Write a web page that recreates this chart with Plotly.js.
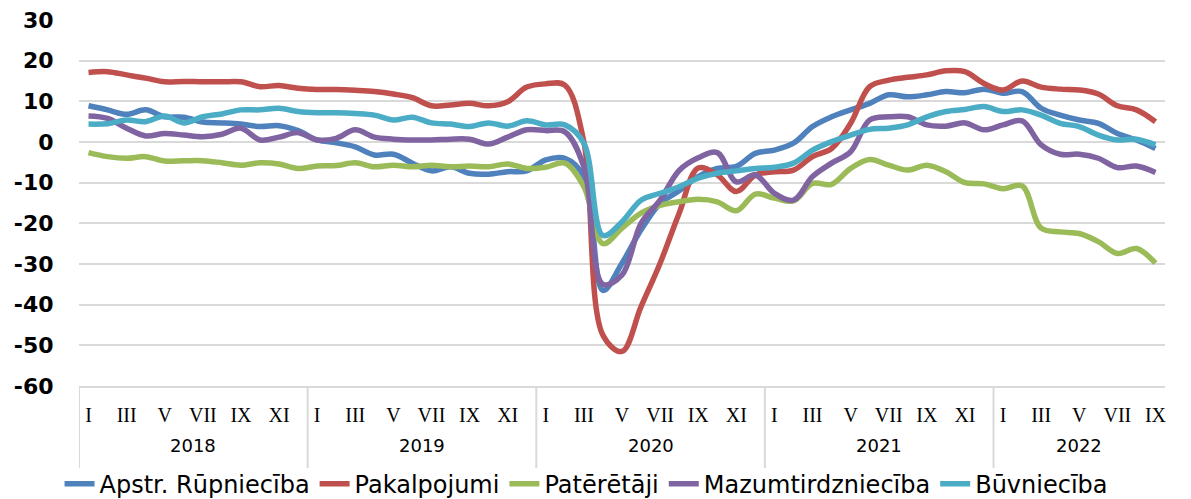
<!DOCTYPE html>
<html>
<head>
<meta charset="utf-8">
<script src="https://cdn.plot.ly/plotly-3.0.1.min.js"></script>
<style>html,body{margin:0;padding:0;background:#fff;}#chart{width:1191px;height:499px;}</style>
</head>
<body>
<div id="chart"></div>
<script>
const years = ["2018","2019","2020","2021","2022"];
const monthsPerYear = [12,12,12,12,9];
const monthNames = ["I","II","III","IV","V","VI","VII","VIII","IX","X","XI","XII"];
const yTickValues = [30, 20, 10, 0, -10, -20, -30, -40, -50, -60];
const yTickLabels = ["30","20","10","0","-10","-20","-30","-40","-50","-60"];

const seriesNames = ["Apstr. Rūpniecība","Pakalpojumi","Patērētāji","Mazumtirdzniecība","Būvniecība"];
const seriesColors = ["#4F81BD","#C0504D","#9BBB59","#8064A2","#4BACC6"];

const apstrRupnieciba = [
  8.9, 7.9, 6.8, 7.9, 6.2, 6.1, 4.9, 4.7, 4.4, 3.8, 4.0, 2.8,
  0.5, -0.2, -1.2, -3.2, -3.0, -5.2, -7.1, -6.1, -7.7, -7.9, -7.3, -7.1,
  -4.4, -4.0, -8.5, -36.5, -29.8, -21.6, -15.1, -12.0, -8.5, -6.5, -6.0, -2.8,
  -2.0, -0.3, 3.8, 6.2, 7.9, 9.5, 11.6, 11.1, 11.6, 12.4, 12.1, 13.0,
  12.0, 12.4, 8.3, 6.6, 5.4, 4.6, 2.1, 0.5, -1.6
];
const pakalpojumi = [
  17.1, 17.3, 16.5, 15.7, 14.8, 14.9, 14.8, 14.8, 14.8, 13.6, 13.9, 13.2,
  12.9, 12.9, 12.7, 12.4, 11.8, 10.9, 8.9, 9.1, 9.5, 8.9, 9.9, 13.5,
  14.3, 14.0, 0.0, -47.5, -51.5, -40.5, -29.8, -17.5, -6.4, -8.1, -12.2, -8.1,
  -7.3, -6.9, -3.6, -1.6, 4.6, 13.6, 15.2, 15.9, 16.5, 17.5, 17.3, 14.4,
  12.8, 15.0, 13.5, 13.0, 12.8, 11.8, 8.9, 7.9, 5.0
];
const pateretaji = [
  -2.6, -3.6, -4.0, -3.6, -4.7, -4.6, -4.6, -5.1, -5.7, -5.1, -5.4, -6.5,
  -5.9, -5.8, -5.1, -6.1, -5.7, -6.1, -5.7, -6.1, -5.9, -6.1, -5.4, -6.5,
  -6.2, -5.2, -11.0, -25.0, -21.2, -17.5, -15.6, -14.7, -14.1, -14.7, -16.9, -12.8,
  -13.8, -14.5, -10.2, -10.4, -6.5, -4.3, -5.7, -6.9, -5.7, -7.3, -10.0, -10.3,
  -11.5, -10.8, -21.2, -22.1, -22.5, -24.5, -27.4, -26.2, -29.8
];
const mazumtirdznieciba = [
  6.4, 5.8, 3.4, 1.5, 2.1, 1.7, 1.3, 1.9, 3.4, 0.5, 1.2, 2.3,
  0.5, 0.9, 3.0, 1.2, 0.7, 0.5, 0.5, 0.7, 0.7, -0.5, 1.2, 3.0,
  2.8, 2.5, -6.1, -35.0, -32.7, -20.0, -14.3, -7.0, -3.9, -2.6, -9.8, -8.1,
  -12.6, -14.3, -8.5, -5.2, -2.4, 5.4, 6.2, 6.2, 4.2, 3.9, 4.7, 3.0,
  4.2, 5.2, -0.7, -3.0, -3.0, -4.0, -6.3, -5.9, -7.5
];
const buvnieciba = [
  4.4, 4.5, 5.4, 5.0, 6.4, 4.7, 6.2, 6.9, 7.9, 7.9, 8.3, 7.5,
  7.2, 7.2, 7.0, 6.6, 5.4, 6.1, 4.7, 4.4, 3.8, 4.7, 3.9, 5.2,
  4.2, 4.2, -0.3, -23.0, -19.6, -14.3, -12.6, -11.0, -8.9, -7.7, -7.1, -6.5,
  -6.2, -5.2, -2.0, 0.1, 1.7, 3.1, 3.4, 4.2, 6.2, 7.5, 8.0, 8.7,
  7.5, 7.9, 6.6, 4.6, 3.8, 1.7, 0.5, 0.7, -0.7
];
const seriesValues = [apstrRupnieciba, pakalpojumi, pateretaji, mazumtirdznieciba, buvnieciba];

// build categories
const cats = [], tickVals = [], tickText = [];
years.forEach((y, yi) => {
  for (let m = 0; m < monthsPerYear[yi]; m++) {
    const c = y + "-" + monthNames[m];
    cats.push(c);
    if (m % 2 === 0) { tickVals.push(c); tickText.push(monthNames[m]); }
  }
});

const traces = seriesNames.map((n, i) => ({
  type: "scatter", mode: "lines", name: n, x: cats, y: seriesValues[i],
  line: {color: seriesColors[i], width: 5.5, shape: "spline", smoothing: 1},
  hoverinfo: "skip"
}));

const shapes = [], annotations = [];
let start = 0;
years.forEach((y, yi) => {
  const n = monthsPerYear[yi];
  shapes.push({type: "line", xref: "x", yref: "paper", x0: start - 0.5, x1: start - 0.5, y0: 0, y1: -0.224,
    line: {color: "#d9d9d9", width: 2}});
  annotations.push({xref: "x", yref: "paper", x: start + (n - 1) / 2, y: -0.162, text: y, showarrow: false,
    xanchor: "center", yanchor: "middle", font: {family: "DejaVu Sans", size: 18, color: "#000"}});
  start += n;
});

const layout = {
  width: 1191, height: 499,
  margin: {l: 79, r: 26, t: 20, b: 113, autoexpand: false},
  paper_bgcolor: "#fff", plot_bgcolor: "#fff",
  showlegend: true,
  legend: {orientation: "h", xref: "container", yref: "container", x: 0.05, xanchor: "left", y: 0.03, yanchor: "middle",
    font: {family: "DejaVu Sans", size: 24, color: "#000"}, tracegroupgap: 0,
    bgcolor: "rgba(0,0,0,0)"},
  xaxis: {type: "category", range: [-0.5, cats.length - 0.5], tickmode: "array", tickvals: tickVals, ticktext: tickText,
    tickfont: {family: "Liberation Serif", size: 20, color: "#000"}, ticks: "outside", ticklen: 10, tickcolor: "rgba(0,0,0,0)",
    showgrid: false, showline: true, linecolor: "#d9d9d9", linewidth: 2, zeroline: false, fixedrange: true, automargin: false},
  yaxis: {range: [-60, 30], tickmode: "array", tickvals: yTickValues, ticktext: yTickLabels,
    showgrid: true, gridcolor: "#d9d9d9", gridwidth: 2,
    zeroline: true, zerolinecolor: "#d9d9d9", zerolinewidth: 2, showline: false,
    ticks: "outside", ticklen: 20, tickcolor: "rgba(0,0,0,0)",
    tickfont: {family: "DejaVu Sans", size: 22, color: "#000", weight: "bold"}, fixedrange: true, automargin: false},
  shapes: shapes, annotations: annotations
};

Plotly.newPlot("chart", traces, layout, {staticPlot: true, displayModeBar: false});
</script>
</body>
</html>
